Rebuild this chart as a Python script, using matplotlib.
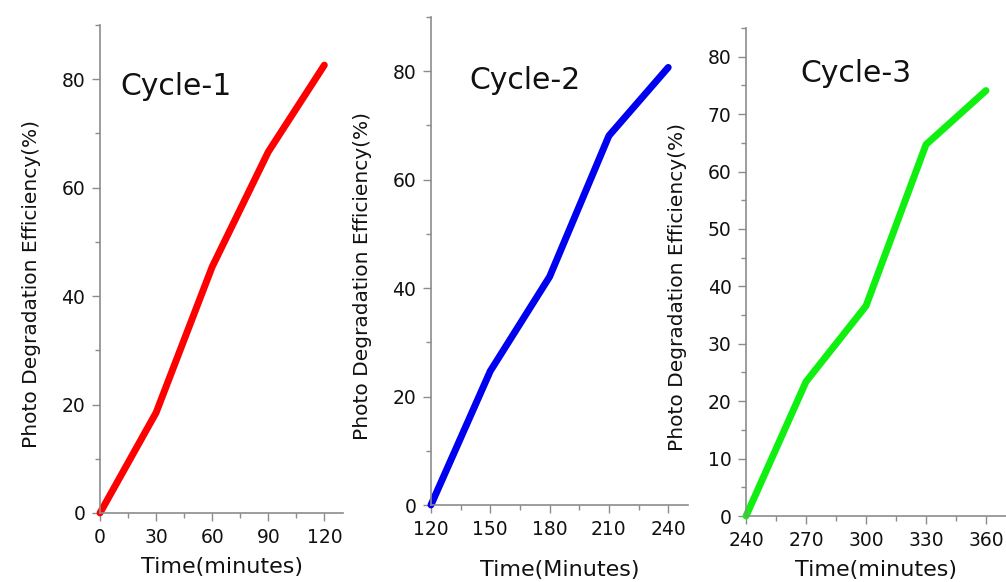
import numpy as np
import matplotlib
matplotlib.use("Agg")
import matplotlib.pyplot as plt
from matplotlib.ticker import MultipleLocator

# data
t1 = [0, 30, 60, 90, 120]
eff1 = [0, 18.5, 45.4, 66.6, 82.6]
t2 = [120, 150, 180, 210, 240]
eff2 = [0, 24.7, 42.1, 68.1, 80.7]
t3 = [240, 270, 300, 330, 360]
eff3 = [0, 23.4, 36.6, 64.7, 74.1]

titles = ["Cycle-1", "Cycle-2", "Cycle-3"]
xlabels = ["Time(minutes)", "Time(Minutes)", "Time(minutes)"]
ylabel = "Photo Degradation Efficiency(%)"
colors = ["#ff0000", "#0000f0", "#10f010"]

plt.rcParams['font.family'] = ['DejaVu Sans']

fig = plt.figure(figsize=(10.06, 5.82), dpi=100)

# axes boxes in figure fraction (left, bottom, width, height)
boxes = [[0.0994, 0.1186, 0.2416, 0.8385],
         [0.4284, 0.1323, 0.2555, 0.8385],
         [0.7416, 0.1134, 0.2584, 0.8385]]
xlims = [(0, 130), (120, 250), (240, 370)]
ylims = [(0, 90), (0, 90), (0, 85)]
ymajor = [20, 20, 10]
title_pos = [(40.9, 78.6), (167.4, 78.3), (295.2, 77.1)]
ylab_x = [-0.28, -0.265, -0.262]
xlab_y = [-0.111, -0.133, -0.111]

data = [(t1, eff1), (t2, eff2), (t3, eff3)]
grey = "#8c8c8c"

for i in range(3):
    ax = fig.add_axes(boxes[i])
    x, y = data[i]
    ax.plot(x, y, color=colors[i], lw=5, solid_capstyle='round', solid_joinstyle='round', clip_on=False)
    ax.set_xlim(*xlims[i])
    ax.set_ylim(*ylims[i])
    ax.set_xticks(x)
    ax.xaxis.set_minor_locator(MultipleLocator(15))
    ax.yaxis.set_major_locator(MultipleLocator(ymajor[i]))
    ax.yaxis.set_minor_locator(MultipleLocator(ymajor[i] / 2))
    for side in ['top', 'right']:
        ax.spines[side].set_visible(False)
    for side in ['left', 'bottom']:
        ax.spines[side].set_color(grey)
        ax.spines[side].set_linewidth(1.2)
    ax.tick_params(which='major', direction='out', length=5.5, width=1, color=grey,
                   labelsize=13.5, labelcolor='#111111')
    ax.tick_params(axis='x', which='major', pad=5.5)
    ax.tick_params(axis='y', which='major', pad=5)
    ax.tick_params(which='minor', direction='out', length=3.5, width=1, color=grey)
    ax.set_xlabel(xlabels[i], fontsize=16, color='#111111')
    ax.set_ylabel(ylabel, fontsize=14.5, color='#111111')
    ax.xaxis.set_label_coords(0.5, xlab_y[i])
    ax.xaxis.label.set_va('center')
    ax.yaxis.set_label_coords(ylab_x[i], 0.469)
    ax.yaxis.label.set_va('center')
    ax.text(title_pos[i][0], title_pos[i][1], titles[i], fontsize=21.5,
            ha='center', va='center', color='#111111')
    ax.patch.set_alpha(0)

fig.savefig("out.png", dpi=100, facecolor='white')
